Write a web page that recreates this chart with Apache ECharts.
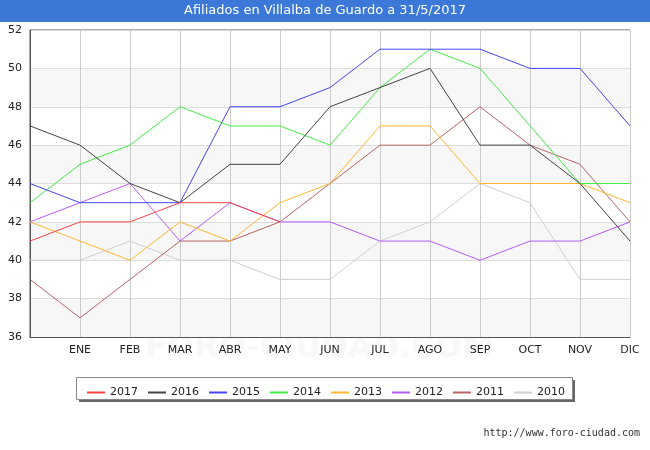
<!DOCTYPE html>
<html><head><meta charset="utf-8">
<script src="https://cdn.jsdelivr.net/npm/echarts@6/dist/echarts.min.js"></script>
<style>body{margin:0}#chart{width:650px;height:450px}</style>
</head><body><div id="chart"></div>
<script>
var months = ['', 'ENE', 'FEB', 'MAR', 'ABR', 'MAY', 'JUN', 'JUL', 'AGO', 'SEP', 'OCT', 'NOV', 'DIC']
var y2017 = [41, 42, 42, 43, 43, 42]
var y2016 = [47, 46, 44, 43, 45, 45, 48, 49, 50, 46, 46, 44, 41]
var y2015 = [44, 43, 43, 43, 48, 48, 49, 51, 51, 51, 50, 50, 47]
var y2014 = [43, 45, 46, 48, 47, 47, 46, 49, 51, 50, 47, 44, 44]
var y2013 = [42, 41, 40, 42, 41, 43, 44, 47, 47, 44, 44, 44, 43]
var y2012 = [42, 43, 44, 41, 43, 42, 42, 41, 41, 40, 41, 41, 42]
var y2011 = [39, 37, 39, 41, 41, 42, 44, 46, 46, 48, 46, 45, 42]
var y2010 = [40, 40, 41, 40, 40, 39, 39, 41, 42, 44, 43, 39, 39]

var names = ['2017', '2016', '2015', '2014', '2013', '2012', '2011', '2010']
var datas = [y2017, y2016, y2015, y2014, y2013, y2012, y2011, y2010]
var colors = ['#ff4444', '#444444', '#4444ff', '#44ee44', '#ffb732', '#b65cff', '#b86464', '#d0d0d0']

var myChart = echarts.init(document.getElementById('chart'))
var series = names.map(function (n, i) {
    return {
        name: n, type: 'line', data: datas[i], symbol: 'none',
        z: 10 - i,
        lineStyle: { color: colors[i], width: 1 },
        itemStyle: { color: colors[i] }
    }
}).reverse()
option = {
    animation: false,
    backgroundColor: '#fff',
    graphic: [
        { type: 'rect', left: 0, top: 0, shape: { width: 650, height: 22 }, style: { fill: '#3b78d8' } },
        { type: 'text', left: 'center', top: 4, style: { text: 'Afiliados en Villalba de Guardo a 31/5/2017', fill: '#fff', font: '13px "DejaVu Sans"' } },
        { type: 'text', left: 145, top: 333, z: 0, style: { text: 'FORO-CIUDAD.COM', fill: 'rgba(200,200,200,0.12)', font: 'bold 32px "DejaVu Sans"' } },
        { type: 'text', right: 10, top: 428, style: { text: 'http://www.foro-ciudad.com', fill: '#333', font: '10px "DejaVu Sans Mono"' } },
        { type: 'rect', left: 79, top: 380, shape: { width: 496, height: 22 }, style: { fill: '#666' } },
        { type: 'rect', left: 76, top: 377, shape: { width: 496, height: 22 }, style: { fill: '#fff', stroke: '#888', lineWidth: 1 } }
    ],
    legend: {
        data: names, left: 82, top: 382, itemGap: 10, itemWidth: 18, itemHeight: 2,
        icon: 'rect', textStyle: { fontSize: 11, color: '#222', fontFamily: 'DejaVu Sans' }
    },
    grid: { left: 30, right: 20, top: 30, bottom: 113, show: true, borderColor: '#555' },
    xAxis: {
        type: 'category', data: months, boundaryGap: false,
        axisLine: { lineStyle: { color: '#555' } }, axisTick: { show: false },
        axisLabel: { color: '#222', fontSize: 11, fontFamily: 'DejaVu Sans', showMaxLabel: true },
        splitLine: { show: true, lineStyle: { color: '#ccc' } }
    },
    yAxis: {
        type: 'value', min: 36, max: 52, interval: 2,
        axisLine: { show: true, lineStyle: { color: '#555' } },
        axisLabel: { color: '#222', fontSize: 11, fontFamily: 'DejaVu Sans' },
        splitLine: { lineStyle: { color: '#ddd' } },
        splitArea: { show: true, areaStyle: { color: ['#f7f7f7', '#ffffff'] } }
    },
    series: series
}
myChart.setOption(option)
</script></body></html>
